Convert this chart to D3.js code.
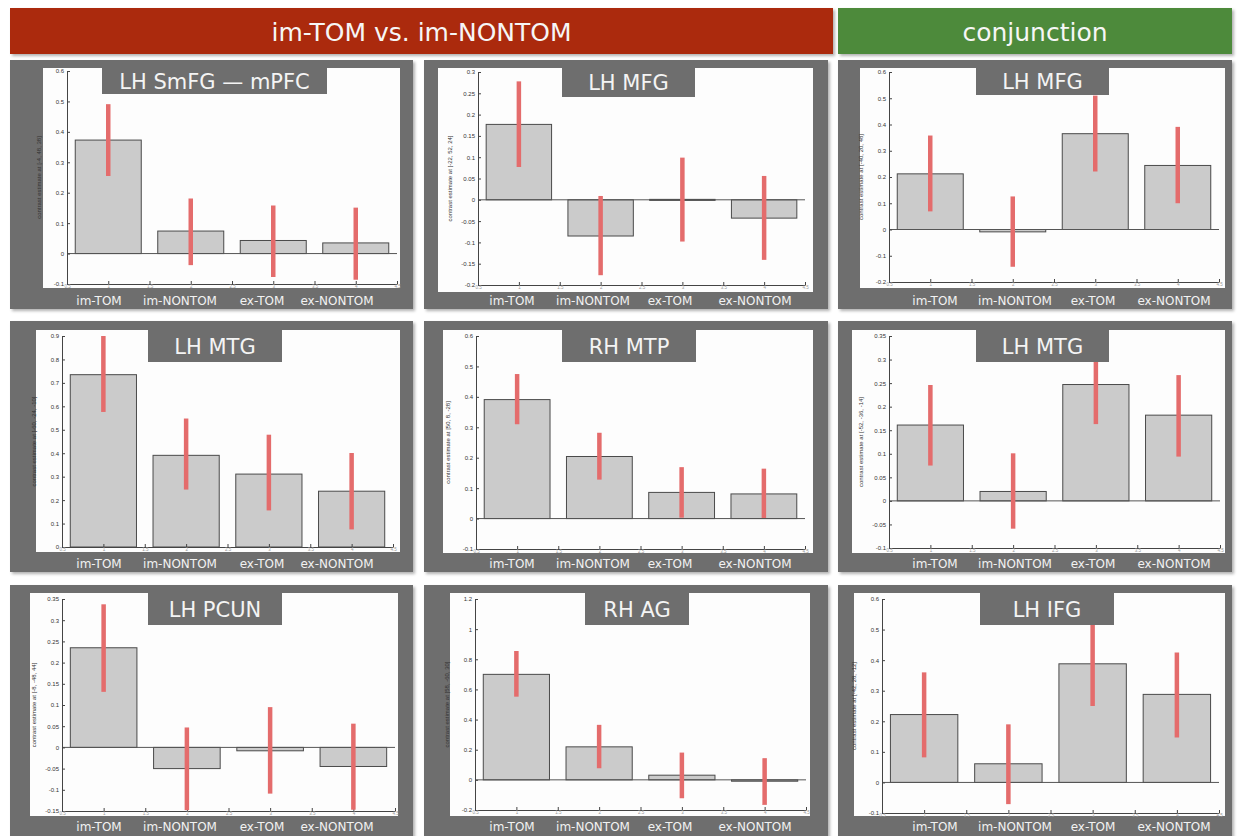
<!DOCTYPE html>
<html>
<head>
<meta charset="utf-8">
<script src="https://cdn.jsdelivr.net/npm/d3@7"></script>
<style>
  body { margin: 0; background: #fff; }
  svg { display: block; }
</style>
</head>
<body>
<div id="chart"></div>
<script>
// conditions on the x axis of every panel
const categories = ['im-TOM', 'im-NONTOM', 'ex-TOM', 'ex-NONTOM'];
const headerTitles = ['im-TOM vs. im-NONTOM', 'conjunction'];

// one entry per panel, reading order (row by row)
const regionTitles = ['LH SmFG — mPFC', 'LH MFG', 'LH MFG', 'LH MTG', 'RH MTP', 'LH MTG', 'LH PCUN', 'RH AG', 'LH IFG'];
const peakCoords = ['[-4, 48, 38]', '[-22, 52, 24]', '[-40, 20, 48]', '[-60, -24, -10]', '[50, 8, -28]',
  '[-52, -36, -14]', '[-8, -48, 44]', '[58, -60, 30]', '[-42, 28, -12]'];

const contrastEstimates = [
  [0.373, 0.074, 0.043, 0.035],
  [0.177, -0.085, 0.001, -0.043],
  [0.212, -0.009, 0.365, 0.244],
  [0.735, 0.391, 0.311, 0.238],
  [0.391, 0.204, 0.086, 0.081],
  [0.161, 0.020, 0.247, 0.182],
  [0.235, -0.050, -0.008, -0.045],
  [0.700, 0.219, 0.031, -0.009],
  [0.222, 0.061, 0.388, 0.288],
];
const ciUpper = [
  [0.491, 0.181, 0.158, 0.151],
  [0.278, 0.009, 0.099, 0.056],
  [0.358, 0.126, 0.510, 0.391],
  [0.900, 0.548, 0.479, 0.401],
  [0.475, 0.282, 0.169, 0.164],
  [0.246, 0.101, 0.331, 0.267],
  [0.3375, 0.047, 0.095, 0.056],
  [0.855, 0.365, 0.181, 0.144],
  [0.360, 0.190, 0.526, 0.425],
];
const ciLower = [
  [0.255, -0.038, -0.077, -0.086],
  [0.077, -0.177, -0.098, -0.141],
  [0.069, -0.142, 0.221, 0.100],
  [0.576, 0.245, 0.156, 0.075],
  [0.310, 0.128, 0.003, 0.002],
  [0.075, -0.059, 0.163, 0.094],
  [0.131, -0.148, -0.109, -0.147],
  [0.552, 0.077, -0.122, -0.166],
  [0.082, -0.071, 0.250, 0.147],
];
const yMin = [-0.1, -0.2, -0.2, 0, -0.1, -0.1, -0.15, -0.2, -0.1];
const yMax = [0.6, 0.3, 0.6, 0.9, 0.6, 0.35, 0.35, 1.2, 0.6];
const yStep = [0.1, 0.05, 0.1, 0.1, 0.1, 0.05, 0.05, 0.2, 0.1];

// slide layout: [x0, y0, x1, y1]
const frameCols = [[10, 413], [424, 828], [838, 1232]];
const frameRows = [[60, 309], [321, 572], [585, 840]];
const labelRowY = [300, 563, 826];
const labelColX = [[99, 180, 262, 337], [512, 593, 670, 755], [935, 1015, 1093, 1174]];
const whiteBoxes = [
  [43, 68, 400, 288], [438, 68, 813, 292], [860, 68, 1225, 288],
  [36, 330, 400, 552], [443, 330, 813, 553], [852, 330, 1225, 553],
  [30, 593, 398, 816], [450, 593, 810, 816], [854, 593, 1225, 816],
];
const axesBoxes = [
  [67, 71, 397, 284], [478, 72, 805, 285], [889, 72, 1219, 282],
  [62, 336, 393, 547], [476, 336, 805, 549], [889, 336, 1220, 548],
  [62, 599, 395, 811], [475, 599, 806, 810], [882, 599, 1219, 813],
];
const titleBoxes = [
  [102, 68, 327, 94], [562, 68, 695, 97], [976, 68, 1109, 95],
  [148, 330, 282, 362], [562, 330, 696, 362], [976, 330, 1109, 362],
  [148, 593, 282, 625], [585, 593, 689, 625], [980, 593, 1114, 625],
];

const width = 1241;
const height = 836;
const panelGray = '#6e6e6e';
const errColor = '#e46c6c';
const fmt = (v) => String(+v.toFixed(3));

const svg = d3.select('#chart').append('svg')
  .attr('width', width)
  .attr('height', height)
  .attr('viewBox', [0, 0, width, height]);

const defs = svg.append('defs');
defs.append('filter')
  .attr('id', 'shadow')
  .attr('x', '-5%').attr('y', '-5%').attr('width', '110%').attr('height', '115%')
  .append('feDropShadow')
  .attr('dx', 2).attr('dy', 2).attr('stdDeviation', 1.5)
  .attr('flood-color', '#000').attr('flood-opacity', 0.3);

// header banners
const headerBoxes = [[10, 8, 833, 54], [838, 8, 1232, 54]];
const headerColors = ['#ab2a0c', '#4d8a3a'];
headerTitles.forEach((t, i) => {
  const b = headerBoxes[i];
  svg.append('rect')
    .attr('x', b[0]).attr('y', b[1])
    .attr('width', b[2] - b[0]).attr('height', b[3] - b[1])
    .attr('fill', headerColors[i])
    .attr('filter', 'url(#shadow)');
  svg.append('text')
    .attr('x', (b[0] + b[2]) / 2)
    .attr('y', (b[1] + b[3]) / 2 + 10)
    .attr('text-anchor', 'middle')
    .attr('fill', '#f6f6f6')
    .style('font-family', '"DejaVu Sans", sans-serif')
    .style('font-size', '25px')
    .text(t);
});

function drawPanel(p) {
  const row = Math.floor(p / 3);
  const col = p % 3;
  const g = svg.append('g');

  // gray frame
  g.append('rect')
    .attr('x', frameCols[col][0]).attr('y', frameRows[row][0])
    .attr('width', frameCols[col][1] - frameCols[col][0])
    .attr('height', frameRows[row][1] - frameRows[row][0])
    .attr('fill', panelGray)
    .attr('filter', 'url(#shadow)');

  const w = whiteBoxes[p];
  g.append('rect')
    .attr('x', w[0]).attr('y', w[1])
    .attr('width', w[2] - w[0]).attr('height', w[3] - w[1])
    .attr('fill', '#fdfdfd');

  const a = axesBoxes[p];
  const x = d3.scaleLinear().domain([0.5, 4.5]).range([a[0], a[2]]);
  const y = d3.scaleLinear().domain([yMin[p], yMax[p]]).range([a[3], a[1]]);
  const yTicks = d3.range(yMin[p], yMax[p] + yStep[p] / 2, yStep[p]).map((v) => +v.toFixed(3));

  // bars
  g.append('g')
    .selectAll('rect')
    .data(contrastEstimates[p])
    .join('rect')
    .attr('x', (d, i) => x(i + 0.6))
    .attr('width', x(1.4) - x(0.6))
    .attr('y', (d) => y(Math.max(0, d)))
    .attr('height', (d) => Math.max(1, Math.abs(y(d) - y(0))))
    .attr('fill', '#cbcbcb')
    .attr('stroke', '#4a4a4a')
    .attr('stroke-width', 1);

  // baseline at zero
  if (yMin[p] < 0) {
    g.append('line')
      .attr('x1', a[0]).attr('x2', a[2])
      .attr('y1', y(0)).attr('y2', y(0))
      .attr('stroke', '#555')
      .attr('stroke-width', 1);
  }

  // axes (MATLAB style ticks pointing inwards)
  const yAxis = g.append('g')
    .attr('transform', `translate(${a[0]},0)`)
    .call(d3.axisLeft(y).tickValues(yTicks).tickFormat(fmt).tickSizeInner(-3).tickSizeOuter(0).tickPadding(3));
  yAxis.selectAll('text')
    .style('font-family', '"Liberation Sans", Arial, sans-serif')
    .style('font-size', '6px')
    .attr('fill', '#333');

  const xAxis = g.append('g')
    .attr('transform', `translate(0,${a[3]})`)
    .call(d3.axisBottom(x).tickValues(d3.range(0.5, 4.75, 0.5)).tickFormat(fmt).tickSizeInner(-3).tickSizeOuter(0).tickPadding(1));
  xAxis.selectAll('text')
    .style('font-family', '"Liberation Sans", Arial, sans-serif')
    .style('font-size', '4.5px')
    .attr('fill', '#999');
  g.selectAll('.domain, .tick line').attr('stroke', '#444');

  // y label
  g.append('text')
    .attr('transform', `translate(${a[0] - 26},${(a[1] + a[3]) / 2}) rotate(-90)`)
    .attr('text-anchor', 'middle')
    .attr('fill', '#333')
    .style('font-family', '"Liberation Sans", Arial, sans-serif')
    .style('font-size', '6px')
    .text(`contrast estimate at ${peakCoords[p]}`);

  // error bars
  g.append('g')
    .selectAll('line')
    .data(contrastEstimates[p])
    .join('line')
    .attr('x1', (d, i) => x(i + 1))
    .attr('x2', (d, i) => x(i + 1))
    .attr('y1', (d, i) => y(ciUpper[p][i]))
    .attr('y2', (d, i) => y(ciLower[p][i]))
    .attr('stroke', errColor)
    .attr('stroke-width', 4.5);

  // title tab sits on top of everything
  const t = titleBoxes[p];
  g.append('rect')
    .attr('x', t[0]).attr('y', t[1])
    .attr('width', t[2] - t[0]).attr('height', t[3] - t[1])
    .attr('fill', panelGray);
  g.append('text')
    .attr('x', (t[0] + t[2]) / 2)
    .attr('y', (t[1] + t[3]) / 2 + 7.5)
    .attr('text-anchor', 'middle')
    .attr('fill', '#f4f4f4')
    .style('font-family', '"DejaVu Sans", sans-serif')
    .style('font-size', '21px')
    .text(regionTitles[p]);

  // condition labels under the plot
  g.append('g')
    .selectAll('text')
    .data(categories)
    .join('text')
    .attr('x', (d, i) => labelColX[col][i])
    .attr('y', labelRowY[row] + 4.5)
    .attr('text-anchor', 'middle')
    .attr('fill', '#f2f2f2')
    .style('font-family', '"DejaVu Sans", sans-serif')
    .style('font-size', '12px')
    .text((d) => d);
}

regionTitles.forEach((d, p) => drawPanel(p));
</script>
</body>
</html>
